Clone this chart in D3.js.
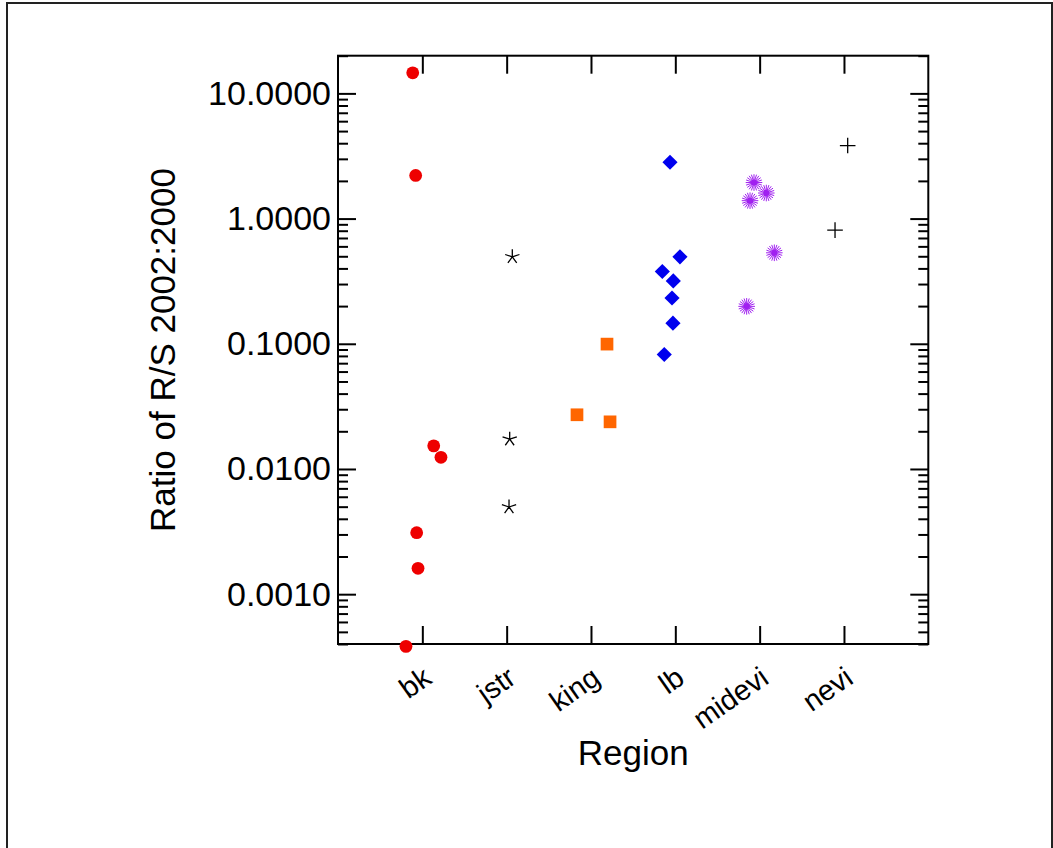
<!DOCTYPE html>
<html><head><meta charset="utf-8">
<script src="https://cdn.jsdelivr.net/npm/d3@7"></script>
<style>body{margin:0;background:#fff}text{font-family:"Liberation Sans",Arial,sans-serif;fill:#000}</style>
</head><body><svg id="c" width="1053" height="848"></svg>
<script>
// ---- data ----
const categories = ["bk", "jstr", "king", "lb", "midevi", "nevi"];
const yTickValues = [0.001, 0.01, 0.1, 1, 10];
// jittered category positions (1 = bk ... 6 = nevi) and ratios
const bkX = [0.886, 0.921, 1.135, 1.221, 0.933, 0.949, 0.806];
const bkY = [14.6, 2.21, 0.0153, 0.0124, 0.0031, 0.00161, 0.000383];
const jstrX = [2.067, 2.036, 2.028];
const jstrY = [0.495, 0.0173, 0.00497];
const kingX = [3.190, 2.834, 3.226];
const kingY = [0.0994, 0.0271, 0.0238];
const lbX = [3.937, 4.055, 3.846, 3.976, 3.961, 3.972, 3.869];
const lbY = [2.82, 0.495, 0.378, 0.318, 0.232, 0.146, 0.0821];
const midX = [4.933, 5.079, 4.886, 5.174, 4.846];
const midY = [1.94, 1.60, 1.39, 0.533, 0.199];
const neviX = [6.044, 5.894];
const neviY = [3.83, 0.809];

const svg = d3.select("#c");
const L = 338, R = 928.3, T = 55.7, B = 644;
const x = d3.scaleLinear().domain([0, 7]).range([L, R]);
const y = d3.scaleLog().domain([0.0004, 20]).range([B, T]);

// outer frame
svg.append("rect").attr("x", 7).attr("y", 3).attr("width", 1045).attr("height", 900)
  .attr("fill", "none").attr("stroke", "#222").attr("stroke-width", 2);

// minor ticks
const minor = [];
for (let d = -4; d <= 1; d++) for (let m = 2; m <= 9; m++) {
  const v = m * Math.pow(10, d);
  if (v >= 0.0004 && v <= 20) minor.push(v);
}
const fmt = d3.format(".4f");
const tickStyle = g => { g.select(".domain").remove(); g.selectAll("line").attr("stroke", "#000").attr("stroke-width", 2); };

svg.append("g").attr("transform", `translate(${L},0)`)
  .call(d3.axisLeft(y).tickValues(minor).tickSize(-10).tickFormat("")).call(tickStyle);
svg.append("g").attr("transform", `translate(${R},0)`)
  .call(d3.axisRight(y).tickValues(minor).tickSize(-10).tickFormat("")).call(tickStyle);
svg.append("g").attr("transform", `translate(${L},0)`)
  .call(d3.axisLeft(y).tickValues(yTickValues).tickSize(-18).tickPadding(7).tickFormat(fmt))
  .call(tickStyle)
  .call(g => g.selectAll("text").attr("font-size", 34).attr("font-family", "Liberation Sans, Arial, sans-serif").attr("fill", "#000"));
svg.append("g").attr("transform", `translate(${R},0)`)
  .call(d3.axisRight(y).tickValues(yTickValues).tickSize(-18).tickFormat("")).call(tickStyle);

const catPos = categories.map((c, i) => i + 1);
svg.append("g").attr("transform", `translate(0,${B})`)
  .call(d3.axisBottom(x).tickValues(catPos).tickSize(-18).tickFormat(""))
  .call(tickStyle);
svg.append("g").attr("transform", `translate(0,${T})`)
  .call(d3.axisTop(x).tickValues(catPos).tickSize(-18).tickFormat(""))
  .call(tickStyle);

// category labels rotated
svg.append("g").selectAll("text").data(categories).join("text")
  .attr("transform", (d, i) => `translate(${x(i + 1) + 11},${B + 38}) rotate(-35)`)
  .attr("text-anchor", "end").attr("font-size", 29).text(d => d);

// frame of plot
svg.append("rect").attr("x", L).attr("y", T).attr("width", R - L).attr("height", B - T)
  .attr("fill", "none").attr("stroke", "#000").attr("stroke-width", 2);

// axis titles
svg.append("text").attr("x", (L + R) / 2).attr("y", 765).attr("text-anchor", "middle")
  .attr("font-size", 35).text("Region");
svg.append("text").attr("transform", `translate(175,350) rotate(-90)`).attr("text-anchor", "middle")
  .attr("font-size", 35).text("Ratio of R/S 2002:2000");

// markers
const pts = (xs, ys) => xs.map((v, i) => [x(v), y(ys[i])]);
const g = svg.append("g");
g.selectAll("circle.bk").data(pts(bkX, bkY)).join("circle")
  .attr("cx", d => d[0]).attr("cy", d => d[1]).attr("r", 6.4).attr("fill", "#ee0000");

const starPath = (n, r, rot) => { const p = d3.path(); for (let k = 0; k < n; k++) { const a = rot + k * 2 * Math.PI / n; p.moveTo(0, 0); p.lineTo(r * Math.cos(a), r * Math.sin(a)); } return p.toString(); };
g.selectAll("path.jstr").data(pts(jstrX, jstrY)).join("path")
  .attr("transform", d => `translate(${d[0]},${d[1]})`)
  .attr("d", starPath(5, 7.5, -Math.PI / 2)).attr("stroke", "#000").attr("stroke-width", 1.3).attr("fill", "none");

g.selectAll("path.king").data(pts(kingX, kingY)).join("path")
  .attr("transform", d => `translate(${d[0]},${d[1]})`)
  .attr("d", d3.symbol(d3.symbolSquare, 161)()).attr("fill", "#ff6600");

g.selectAll("path.lb").data(pts(lbX, lbY)).join("path")
  .attr("transform", d => `translate(${d[0]},${d[1]}) rotate(45)`)
  .attr("d", d3.symbol(d3.symbolSquare, 115)()).attr("fill", "#0000ee");

const mg = g.selectAll("g.mid").data(pts(midX, midY)).join("g")
  .attr("transform", d => `translate(${d[0]},${d[1]})`);
mg.append("path").attr("d", starPath(20, 8.3, 0)).attr("stroke", "#a020f0").attr("stroke-width", 1).attr("fill", "none");
mg.append("circle").attr("r", 3).attr("fill", "#a020f0");

const plusPath = (() => { const p = d3.path(); p.moveTo(-7.8, 0); p.lineTo(7.8, 0); p.moveTo(0, -7.8); p.lineTo(0, 7.8); return p.toString(); })();
g.selectAll("path.nevi").data(pts(neviX, neviY)).join("path")
  .attr("transform", d => `translate(${d[0]},${d[1]})`)
  .attr("d", plusPath).attr("stroke", "#000").attr("stroke-width", 1.3).attr("fill", "none");
</script></body></html>
